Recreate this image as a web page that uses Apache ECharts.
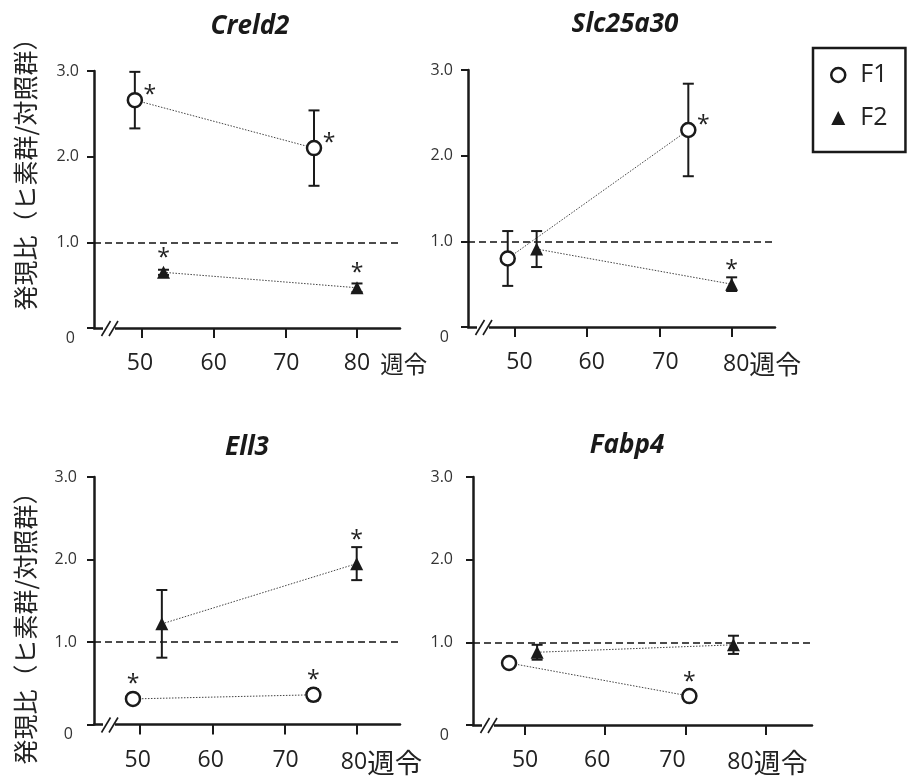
<!DOCTYPE html>
<html>
<head>
<meta charset="utf-8">
<script src="https://cdn.jsdelivr.net/npm/echarts@6/dist/echarts.min.js"></script>
<style>
  html, body { margin: 0; padding: 0; background: #fff; }
  #chart { width: 907px; height: 776px; }
</style>
</head>
<body>
<div id="chart"></div>
<script>
// ---- labels ----
const panelTitles = ['Creld2', 'Slc25a30', 'Ell3', 'Fabp4'];
const seriesNames = ['F1', 'F2'];
const yTicks = [0, 1, 2, 3];
const weekTicks = [50, 60, 70, 80];
const weekUnit = '週令';
const yAxisTitle = '発現比（ヒ素群/対照群）';

// ---- data: week of age, expression ratio (arsenic / control), error, significance mark ----
// significance: 0 = none, 1 = asterisk above, 2 = asterisk upper right
const creld2F1Weeks = [49, 74];
const creld2F1Ratio = [2.66, 2.10];
const creld2F1Err = [0.33, 0.44];
const creld2F1Sig = [2, 2];
const creld2F2Weeks = [53, 80];
const creld2F2Ratio = [0.65, 0.47];
const creld2F2Err = [0.03, 0.05];
const creld2F2Sig = [1, 1];

const slc25a30F1Weeks = [49, 74];
const slc25a30F1Ratio = [0.80, 2.30];
const slc25a30F1Err = [0.32, 0.54];
const slc25a30F1Sig = [0, 2];
const slc25a30F2Weeks = [53, 80];
const slc25a30F2Ratio = [0.91, 0.50];
const slc25a30F2Err = [0.21, 0.08];
const slc25a30F2Sig = [0, 1];

const ell3F1Weeks = [49, 74];
const ell3F1Ratio = [0.31, 0.36];
const ell3F1Err = [0.02, 0.07];
const ell3F1Sig = [1, 1];
const ell3F2Weeks = [53, 80];
const ell3F2Ratio = [1.22, 1.95];
const ell3F2Err = [0.41, 0.20];
const ell3F2Sig = [0, 1];

const fabp4F1Weeks = [48, 70.5];
const fabp4F1Ratio = [0.75, 0.35];
const fabp4F1Err = [0.03, 0.02];
const fabp4F1Sig = [0, 1];
const fabp4F2Weeks = [51.5, 76];
const fabp4F2Ratio = [0.88, 0.97];
const fabp4F2Err = [0.09, 0.11];
const fabp4F2Sig = [0, 0];

const panels = [
  { F1: [creld2F1Weeks, creld2F1Ratio, creld2F1Err, creld2F1Sig], F2: [creld2F2Weeks, creld2F2Ratio, creld2F2Err, creld2F2Sig] },
  { F1: [slc25a30F1Weeks, slc25a30F1Ratio, slc25a30F1Err, slc25a30F1Sig], F2: [slc25a30F2Weeks, slc25a30F2Ratio, slc25a30F2Err, slc25a30F2Sig] },
  { F1: [ell3F1Weeks, ell3F1Ratio, ell3F1Err, ell3F1Sig], F2: [ell3F2Weeks, ell3F2Ratio, ell3F2Err, ell3F2Sig] },
  { F1: [fabp4F1Weeks, fabp4F1Ratio, fabp4F1Err, fabp4F1Sig], F2: [fabp4F2Weeks, fabp4F2Ratio, fabp4F2Err, fabp4F2Sig] }
];

// ---- layout & style ----
const INK = '#1a1a1a';
const LATIN = "'Open Sans', 'Noto Sans', sans-serif";
const CJK = "'Noto Sans CJK JP', 'Open Sans', sans-serif";

const grids = [
  { left: 94,  top: 71,  width: 306, height: 257 },
  { left: 468, top: 70,  width: 307, height: 257 },
  { left: 94,  top: 477, width: 306, height: 257 },
  { left: 473, top: 477, width: 339, height: 256 }
];
const weekRange = [[43.3, 86.0], [43.5, 86.0], [43.6, 86.0], [43.5, 85.8]];
const yLabelMargin = [15, 15, 17, 20];
// horizontal nudge of each week label (px), and the unit text size per panel
const weekLabelShift = [[-2, 0, 1, 0], [4.5, 4.5, 6, 4.5], [-2.5, -1.7, 1, -2.7], [0, -8, -13, -25]];
const unitFontSize = [23.5, 26, 27.5, 27];
const unitGap = [10, 0, 0, 0];
const titleCenters = [[250, 27], [625, 25], [247, 448], [627, 446]];
const yTitleCenters = [[25.5, 168], [25.5, 622]];

function weekAxisLabel(p) {
  const rich = {};
  const unitW = unitFontSize[p] * 2 + unitGap[p];
  weekTicks.forEach((v, k) => {
    const s = weekLabelShift[p][k];
    const diff = v === 80 ? 2 * s + unitW : 2 * s;
    rich['w' + v] = {
      fontSize: 23, fontFamily: LATIN, color: '#222',
      padding: [0, diff < 0 ? -diff : 0, 0, diff > 0 ? diff : 0]
    };
  });
  rich.u = { fontSize: unitFontSize[p], fontFamily: CJK, color: '#222', width: unitW, align: 'right' };
  return {
    customValues: weekTicks,
    margin: 24,
    formatter: v => v === 80 ? `{w80|${v}}{u|${weekUnit}}` : `{w${v}|${v}}`,
    rich
  };
}

const option = {
  animation: false,
  backgroundColor: '#fff',
  legend: {
    left: 813, top: 48,
    orient: 'vertical',
    padding: [12, 18, 19, 17],
    itemGap: 13,
    itemWidth: 14, itemHeight: 14,
    borderColor: INK, borderWidth: 2.5,
    selectedMode: false,
    textStyle: { fontSize: 25, fontFamily: LATIN, color: '#222', padding: [0, 0, 0, 10], lineHeight: 30 },
    data: [
      { name: seriesNames[0], icon: 'circle', itemStyle: { color: '#fff', borderColor: INK, borderWidth: 2.5 } },
      { name: seriesNames[1], icon: 'triangle', itemStyle: { color: INK, borderWidth: 0 } }
    ]
  },
  grid: grids,
  xAxis: grids.map((g, p) => ({
    type: 'value', gridIndex: p,
    min: weekRange[p][0], max: weekRange[p][1],
    axisLine: { show: true, onZero: false, lineStyle: { color: INK, width: 2.5 } },
    axisTick: { show: true, customValues: weekTicks, length: 10, lineStyle: { color: INK, width: 2 } },
    axisLabel: weekAxisLabel(p),
    splitLine: { show: false }
  })),
  yAxis: grids.map((g, p) => ({
    type: 'value', gridIndex: p,
    min: yTicks[0], max: yTicks[yTicks.length - 1], interval: 1,
    axisLine: { show: true, lineStyle: { color: INK, width: 2.5 } },
    axisTick: { show: true, length: 7, lineStyle: { color: INK, width: 2 } },
    axisLabel: {
      margin: yLabelMargin[p], fontSize: 16, fontFamily: LATIN, color: '#333',
      formatter: v => v === 0 ? '{z|0}' : v.toFixed(1),
      rich: { z: { fontSize: 16, fontFamily: LATIN, color: '#333', padding: [20, 4, 0, 0] } }
    },
    splitLine: { show: false }
  })),
  series: []
};

panels.forEach((panel, p) => {
  const errData = [];
  seriesNames.forEach((name, s) => {
    const [weeks, ratio, err, sig] = panel[name];
    const pts = weeks.map((w, k) => [w, ratio[k]]);
    weeks.forEach((w, k) => errData.push([w, ratio[k], err[k], sig[k], s]));
    const line = {
      type: 'line', name, xAxisIndex: p, yAxisIndex: p,
      data: pts, z: 4,
      symbol: s === 0 ? 'circle' : 'triangle',
      symbolSize: s === 0 ? 14 : 13,
      itemStyle: s === 0 ? { color: '#fff', borderColor: INK, borderWidth: 2.5 } : { color: INK },
      lineStyle: { color: '#444', width: 1, type: [1.5, 1.5] },
      emphasis: { disabled: true },
      silent: true
    };
    if (s === 0) {
      line.markLine = {
        silent: true, symbol: ['none', 'none'], label: { show: false },
        lineStyle: { type: [7, 4], width: 1.6, color: '#111' },
        data: [{ yAxis: 1 }],
        z: 1
      };
    }
    option.series.push(line);
  });
  option.series.push({
    type: 'custom', xAxisIndex: p, yAxisIndex: p, z: 3, clip: false, silent: true,
    data: errData,
    renderItem: (params, api) => {
      const x = api.value(0), y = api.value(1), e = api.value(2), sig = api.value(3);
      const c = api.coord([x, y]);
      const t = api.coord([x, y + e]);
      const b = api.coord([x, y - e]);
      const cap = 5.5;
      const stroke = { stroke: INK, lineWidth: 2 };
      const children = [
        { type: 'line', shape: { x1: c[0], y1: t[1], x2: c[0], y2: b[1] }, style: stroke },
        { type: 'line', shape: { x1: c[0] - cap, y1: t[1], x2: c[0] + cap, y2: t[1] }, style: stroke },
        { type: 'line', shape: { x1: c[0] - cap, y1: b[1], x2: c[0] + cap, y2: b[1] }, style: stroke }
      ];
      if (sig > 0) {
        let ax, ay;
        if (sig === 2) { ax = c[0] + 15; ay = c[1] - 10; }
        else { ax = c[0]; ay = Math.min(t[1], c[1] - 7) - 12; }
        children.push({
          type: 'text',
          style: { text: '*', x: ax, y: ay + 5, align: 'center', verticalAlign: 'middle',
                   fontSize: 23, fontFamily: LATIN, fill: '#222' }
        });
      }
      return { type: 'group', children };
    }
  });
});

const chart = echarts.init(document.getElementById('chart'), null, { renderer: 'canvas' });
chart.setOption(option);

// titles, axis titles and the axis-break marks
const elements = [];
panelTitles.forEach((t, p) => {
  elements.push({
    type: 'text', x: titleCenters[p][0], y: titleCenters[p][1], silent: true,
    style: { text: t, align: 'center', verticalAlign: 'middle', fontSize: 26,
             fontStyle: 'italic', fontWeight: 'bold', fontFamily: LATIN, fill: INK }
  });
});
yTitleCenters.forEach(([x, y]) => {
  elements.push({
    type: 'text', x, y, rotation: Math.PI / 2, silent: true,
    style: { text: yAxisTitle, align: 'center', verticalAlign: 'middle', fontSize: 25,
             fontFamily: CJK, fill: '#222' }
  });
});
grids.forEach((g, p) => {
  const o = chart.convertToPixel({ xAxisIndex: p, yAxisIndex: p }, [weekRange[p][0], 0]);
  const x0 = o[0], y0 = o[1];
  elements.push({ type: 'rect', silent: true, z: 10,
    shape: { x: x0 + 9, y: y0 - 3, width: 12, height: 6 }, style: { fill: '#fff' } });
  elements.push({ type: 'line', silent: true, z: 11,
    shape: { x1: x0 + 7.5, y1: y0 + 8, x2: x0 + 16.5, y2: y0 - 7 }, style: { stroke: INK, lineWidth: 1.6 } });
  elements.push({ type: 'line', silent: true, z: 11,
    shape: { x1: x0 + 15, y1: y0 + 8, x2: x0 + 24, y2: y0 - 7 }, style: { stroke: INK, lineWidth: 1.6 } });
});
chart.setOption({ graphic: { elements } });
</script>
</body>
</html>
